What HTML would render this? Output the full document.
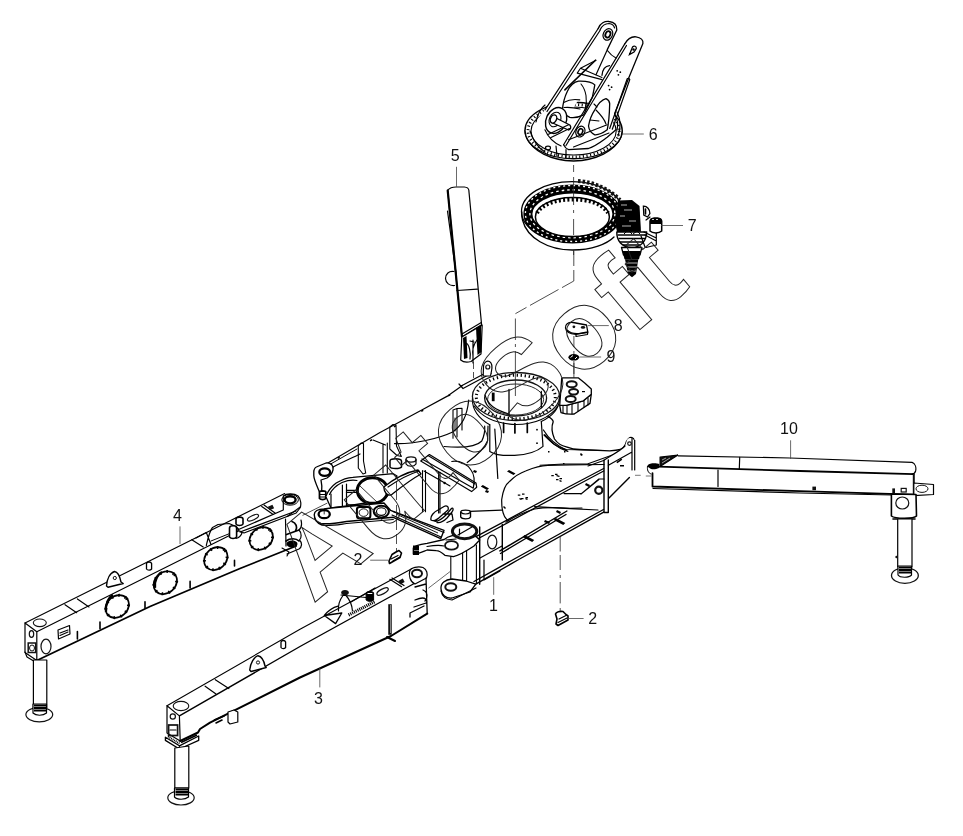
<!DOCTYPE html>
<html><head><meta charset="utf-8"><style>
html,body{margin:0;padding:0;background:#fff;width:963px;height:836px;overflow:hidden}
svg{display:block;will-change:transform}
text{font-family:"Liberation Sans",sans-serif;font-size:16px;fill:#111}
</style></head><body>
<svg width="963" height="836" viewBox="0 0 963 836">
<g id="item6">
<!-- base ring -->
<path fill="none" stroke="#000" stroke-linejoin="round" stroke-linecap="round" d="M525 130.5 C525 133 525.5 135 526.5 137 C532 151 551 160.5 573.6 161 C596 160.5 615 151 621 137 C622 135 622.2 133 622.2 130.5" stroke-width="1.3"/>
<ellipse cx="573.6" cy="130.5" rx="48.6" ry="28.3" fill="#fff" stroke="#000" stroke-width="1.4"/>
<ellipse cx="573.6" cy="131" rx="42.6" ry="24" fill="none" stroke="#000" stroke-width="1.1"/>
<ellipse cx="573.6" cy="130.8" rx="45.6" ry="26.2" fill="none" stroke="#000" stroke-width="2.8" stroke-dasharray="1.1 2.5"/>
<!-- left arm plate -->
<path fill="#fff" stroke-width="1.2" stroke-linejoin="round" d="M598.2 28.5 C600 23 605 21 609 21.5 C614 22 617 25 616.8 30 L607.4 49.4 L596 74.7 L575 105 L566 130 L556 146 L541 136 L535 122 L545 109.8 Z" stroke="none"/>
<path fill="none" stroke="#000" stroke-linejoin="round" stroke-linecap="round" d="M598.2 28.5 C600 23 605 21 609 21.5 C614 22 617 25 616.8 30 L607.4 49.4" stroke-width="1.3"/>
<path fill="none" stroke="#000" stroke-width="1.2" stroke-linejoin="round" stroke-linecap="round" d="M600 30 C602 25.5 606 23.5 609 23.5 C612 23.8 614 25.5 614.6 28"/>
<path fill="none" stroke="#000" stroke-linejoin="round" stroke-linecap="round" d="M598.2 28.5 L545 109.8 M600 30.5 L547 111.5" stroke-width="1.2"/>
<ellipse cx="607.9" cy="34.4" rx="4.6" ry="6" transform="rotate(25 607.9 34.4)" fill="none" stroke="#000" stroke-width="1.2"/>
<ellipse cx="607.9" cy="34.4" rx="2.4" ry="3.3" transform="rotate(25 607.9 34.4)" fill="none" stroke="#000" stroke-width="1.8"/>
<!-- right arm plate -->
<path fill="#fff" stroke-width="1.2" stroke-linejoin="round" d="M624.6 44.1 C628 38 633 36.5 636 36.8 C641 37.5 643.5 40 642.9 43.5 L628.9 77.4 L614.7 113.6 C613 125 612 132 607.2 137.3 C600 143 595 147 588.5 148.5 L568.6 149.7 L563.6 144.7 L586.9 105 Z" stroke="none"/>
<path fill="none" stroke="#000" stroke-linejoin="round" stroke-linecap="round" d="M624.6 44.1 C628 38 633 36.5 636 36.8 C641 37.5 643.5 40 642.9 43.5 L628.9 77.4 L614.7 113.6" stroke-width="1.3"/>
<path fill="none" stroke="#000" stroke-linejoin="round" stroke-linecap="round" d="M624.6 44.1 L563.6 144.7 M626.5 45.5 L566 145.5" stroke-width="1.2"/>
<path fill="none" stroke="#000" stroke-linejoin="round" stroke-linecap="round" d="M563.6 144.7 C565 147.5 566.5 149 568.6 149.7 L588.5 148.5 C596 146 602 141 607.2 137.3 C611 134 614 131.5 616 129.8" stroke-width="1.3"/>
<path fill="none" stroke="#000" stroke-linejoin="round" stroke-linecap="round" d="M568.6 139.8 L607.2 124.8 M573.5 147 L609 133" stroke-width="1.1"/>
<path fill="none" stroke="#000" stroke-linejoin="round" stroke-linecap="round" d="M627.2 78.7 L609.7 128.5 M629.8 79.5 L612.3 129.2 M627.2 78.7 C628.5 78 629.5 78.8 629.8 79.5" stroke-width="1.2"/>
<path d="M629.5 54.5 L632.5 47 C634 45.5 636.5 46 636.3 48.5 L634 52 Z" fill="none" stroke="#000" stroke-width="1.3"/><circle cx="633.5" cy="49.5" r="1.2" fill="#000"/>
<g fill="#000"><circle cx="617.2" cy="70.8" r="0.9"/><circle cx="620.3" cy="72.2" r="0.9"/><circle cx="618.4" cy="74.8" r="0.9"/>
<circle cx="608.6" cy="85.6" r="0.9"/><circle cx="611.6" cy="87.2" r="0.9"/><circle cx="609.6" cy="89.6" r="0.9"/></g>
<ellipse cx="580.4" cy="131.6" rx="4.4" ry="5.6" transform="rotate(25 580.4 131.6)" fill="none" stroke="#000" stroke-width="1.2"/>
<ellipse cx="580.4" cy="131.6" rx="2.2" ry="3" transform="rotate(25 580.4 131.6)" fill="none" stroke="#000" stroke-width="1.6"/>
<!-- gap between arms / cross member -->
<path fill="none" stroke="#000" stroke-linejoin="round" stroke-linecap="round" d="M607.4 50.5 C610 54 613 56.5 616 58 M596 74.7 L607.4 49.4" stroke-width="1.2"/>
<path fill="none" stroke="#000" stroke-linejoin="round" stroke-linecap="round" d="M602 75.3 C602.5 70 605 66 609.5 65.6" stroke-width="1.3"/>
<path fill="none" stroke="#000" stroke-linejoin="round" stroke-linecap="round" d="M580.5 68.3 L596 60.2 M580.5 68.3 L577.2 73.1 L602 79.6 M580.5 68.3 L602 77.4" stroke-width="1.1"/>
<path fill="none" stroke="#000" stroke-linejoin="round" stroke-linecap="round" d="M564.9 89.9 L595.5 60.2" stroke-width="1.6"/>
<!-- opening A -->
<path fill="none" stroke="#000" stroke-linejoin="round" stroke-linecap="round" d="M578.6 81.2 C585 81 592 82 594.8 84.9 C594 90 593 94 592.3 97.4 C589 104 586 110 583.6 114.8 C579 117 573 118 569.8 117.3 C565 115 562.5 112 562.4 109.8 C563 103 565 96 567.4 91.2 C570 86 574 82 578.6 81.2 Z" stroke-width="1.3"/>
<path fill="none" stroke="#000" stroke-linejoin="round" stroke-linecap="round" d="M563.6 102.4 C568 100 575 99 579.8 99.9 M564 107.5 C570 107 576 108 580 109 M581 84 C586 90 588 100 585 110" stroke-width="1.1"/>
<!-- opening B -->
<path fill="none" stroke="#000" stroke-linejoin="round" stroke-linecap="round" d="M606 98.6 C608 99.5 609.5 101 609.7 103.6 C609.5 112 609 122 607.2 129.8 C603 133 598 135 594.8 134.8 C591 133 589 130 588.5 126 C589.5 120 592 114 594.8 109.8 C598 104 602 99.5 606 98.6 Z" stroke-width="1.3"/>
<path fill="none" stroke="#000" stroke-linejoin="round" stroke-linecap="round" d="M596 110 C600 114 604 118 606 124 M590 120 L599 121 M594 104 L597 107" stroke-width="1.1"/>
<!-- pin boss -->
<ellipse cx="556.1" cy="120.5" rx="10" ry="13.5" transform="rotate(25 556.1 120.5)" fill="#fff" stroke="#000" stroke-width="1.4"/>
<ellipse cx="555" cy="119.5" rx="5.6" ry="7.6" transform="rotate(25 555 119.5)" fill="none" stroke="#000" stroke-width="1.1"/>
<path fill="#fff" stroke="#000" stroke-linejoin="round" d="M553 116.5 L569.8 125 C571.5 127 570.8 129.5 568.5 130 L551.5 122.5 Z" stroke-width="1.3"/>
<ellipse cx="553.5" cy="119" rx="3" ry="4.2" transform="rotate(25 553.5 119)" fill="#fff" stroke="#000" stroke-width="1.4"/>
<path fill="none" stroke="#000" stroke-linejoin="round" stroke-linecap="round" d="M544.9 129.8 C548 137 554 143 561.1 146 M547.4 134.8 L568.6 124.8 M551 137.5 L569.5 128.5" stroke-width="1.1"/>
<path fill="none" stroke="#000" stroke-linejoin="round" stroke-linecap="round" d="M530 131 C533 140 538 148 545 152 M536 122 C538 112 541 108 545 105" stroke-width="1.2"/>
<path fill="none" stroke="#000" stroke-linejoin="round" stroke-linecap="round" d="M556 146 L557 156 M566 149.5 L566 158" stroke-width="1.2"/>
<path fill="none" stroke="#000" stroke-linejoin="round" stroke-linecap="round" d="M614.7 113.6 C617 118 618.5 124 617 130 M617 112 C620 118 621.5 126 618 136" stroke-width="1.2"/>
<ellipse cx="548" cy="148" rx="2.5" ry="1.8" fill="none" stroke="#000" stroke-width="1.2"/>
</g>

<g id="item7">
<!-- band -->
<path fill="none" stroke="#000" stroke-linejoin="round" stroke-linecap="round" d="M521.8 212 C521.5 216 522 218 522.5 220 C527 238 548 250 572.3 250 C592 250 607 244 614 237" stroke-width="1.3"/>
<!-- outer top ellipse -->
<ellipse fill="none" stroke="#000" stroke-linejoin="round" stroke-linecap="round" cx="572" cy="211.5" rx="50.5" ry="29.8" stroke-width="1.3"/>
<!-- dark bolt band -->
<ellipse cx="572.4" cy="214" rx="44.5" ry="25" fill="none" stroke="#000" stroke-width="9"/>
<ellipse cx="572.4" cy="213.5" rx="47" ry="28" fill="none" stroke="#fff" stroke-width="1.3" stroke-dasharray="2 3"/>
<ellipse cx="572.4" cy="213.8" rx="42.5" ry="24" fill="none" stroke="#fff" stroke-width="1.3" stroke-dasharray="2.5 3"/>
<!-- inner opening with teeth -->
<ellipse cx="572.4" cy="217" rx="37" ry="19.5" fill="#fff" stroke="#000" stroke-width="1.5"/>
<path d="M537 213 C543 203 558 199.5 572.4 199.5 C588 199.5 602 203 608 213" fill="none" stroke="#000" stroke-width="4" stroke-dasharray="2 2.3"/>
<!-- external teeth top right -->
<path d="M578 181 C595 182 610 190 620 200" fill="none" stroke="#111" stroke-width="4" stroke-dasharray="2.5 2"/>
<!-- motor -->
<path fill="#000" stroke="none" d="M618 200.6 L632 200 L639.5 206 L641 231.7 L617 232 L615 222 Z"/>
<path d="M621 205 h6 M624 210 h8 M620 216 h5 M629 221 h7 M622 226 h9" stroke="#fff" stroke-width="0.7"/>
<path fill="#fff" stroke="#000" stroke-linejoin="round" d="M616.8 232 C616.5 241 622 247 631.5 247.5 C641 247.5 646.5 241 646.7 232 Z" stroke-width="1.4"/>
<path d="M617.5 235 H646 M618.5 238.5 H645 M620 242 H643.5 M623 245 H640" stroke="#000" stroke-width="1.3"/>
<path d="M624 234 L628 230 L632 234 M633 234 L637 231 L640 234" stroke="#000" stroke-width="1" fill="none"/>
<path fill="#fff" stroke="#000" stroke-linejoin="round" d="M621.5 247.5 H641.9 L640 255 H623.5 Z" stroke-width="1.3"/>
<path fill="#000" stroke="none" d="M622.5 251 H641 L639 259.2 H624.5 Z"/>
<path fill="#000" stroke="none" d="M625 259.2 L638.3 259.2 L636 274 L632 277.2 L628 274 Z"/>
<path d="M626 263 H637.5 M626.5 267 H637 M627 271 H636" stroke="#fff" stroke-width="0.7"/>
<!-- bracket -->
<path d="M643.4 206.2 C647 206 650 209.5 649.9 213.5 L647.5 217 L643.8 215 Z" fill="#fff" stroke="#000" stroke-width="1.3"/>
<path fill="none" stroke="#000" stroke-linejoin="round" stroke-linecap="round" d="M645.5 209 V214" stroke-width="1.6"/>
<path fill="none" stroke="#000" stroke-linejoin="round" stroke-linecap="round" d="M646 220 L650 217 M644 232 L656.3 238 M645 235 L656.3 241 M656.3 233 V245 L646 247.5 M641 236 L645 247" stroke-width="1.2"/>
<path fill="#fff" stroke="#000" stroke-linejoin="round" d="M650 221 C650 218 661.7 218 661.7 221 V231 C659 233.5 652.5 233.5 650 231 Z" stroke-width="1.5"/>
<path fill="#000" stroke="none" d="M650 219 C652 216.5 660 216.5 661.7 219 V224 H650 Z"/>
<path d="M652 219.5 h2 M656 219.5 h2" stroke="#fff" stroke-width="0.8"/>
<!-- dash-dot axis -->
<path fill="none" stroke="#222" stroke-width="0.8" d="M573.6 165 V172 M573.6 177 V205 M573.6 210 V213 M573.6 219 V235 M573.6 250 V255"/>
</g>

<g id="item5">
<path fill="#fff" stroke="#000" stroke-linejoin="round" d="M447.7 190.2 C450 187.5 453 187 456 187 L464.4 187 C467 187.3 468.5 188.5 468.8 190 L481.6 324.8 L461.9 337 Z" stroke-width="1.2"/>
<path fill="none" stroke="#000" stroke-linejoin="round" stroke-linecap="round" d="M447.7 190.5 L462 337" stroke-width="2.2"/>
<path fill="none" stroke="#000" stroke-width="1.2" stroke-linejoin="round" stroke-linecap="round" d="M447.5 211 L456.4 276"/>
<path fill="none" stroke="#000" stroke-width="1.2" stroke-linejoin="round" stroke-linecap="round" d="M457 290.5 L477.4 289.2"/>
<path fill="none" stroke="#000" stroke-width="1.2" stroke-linejoin="round" stroke-linecap="round" d="M462 334 L481.3 322.5"/>
<path fill="none" stroke="#000" stroke-width="1.2" stroke-linejoin="round" stroke-linecap="round" d="M454 271.5 C449 270.5 445.5 274 445.5 278.5 C445.8 283 449.5 286 454.5 285.5"/>
<!-- clevis -->
<path fill="#fff" stroke="#000" stroke-linejoin="round" d="M461.8 337 L460.7 360 C463 362 467 362.5 471 361.5 L481 354 L482.2 325 Z" stroke-width="1.2"/>
<path fill="#000" stroke="none" d="M463 338 L466.5 336 L467.5 358 L464 359 Z"/>
<path fill="#000" stroke="none" d="M476 328 L481 325.5 L481.5 352 L477.5 355 Z"/>
<path fill="none" stroke="#000" stroke-width="1.2" stroke-linejoin="round" stroke-linecap="round" d="M466 343 C469 344 471 352 470 359 M477 340 C474 344 472 350 473 356 M470 341 L474 342 M473 340 V363"/>
</g>

<g id="frame">
<!-- rear beam top edge -->
<path fill="none" stroke="#000" stroke-linejoin="round" stroke-linecap="round" d="M314 471 L330 461.7 L380 432.5 L421.8 410 L448.3 395.6 L462.4 385.5" stroke-width="1.2"/>
<path fill="none" stroke="#000" stroke-linejoin="round" stroke-linecap="round" d="M321 469.5 L357 449" stroke-width="1"/>
<!-- rear left lug -->
<path fill="#fff" stroke="#000" stroke-linejoin="round" d="M313.8 472 C314 469 315 467.5 316.4 467 L326 463 C331 462.5 334 466 333 470 C332 474 330 476 327 478 L321 480 C322 484 322 490 321.6 494 L319.5 492 C317 486 314 480 313.8 475.8 Z" stroke-width="1.3"/>
<ellipse cx="324.7" cy="472.1" rx="5.4" ry="3.8" fill="none" stroke="#000" stroke-width="2.2"/>
<path fill="#fff" stroke="#000" stroke-linejoin="round" d="M319.5 492 C319.5 490.5 325.8 490.5 325.8 492 L325.8 498.5 C324.5 500 320.8 500 319.5 498.5 Z" stroke-width="1.8"/>
<path fill="none" stroke="#000" stroke-linejoin="round" stroke-linecap="round" d="M320 494.5 H325.5 M320 497 H325.5" stroke-width="1.2"/>
<!-- rear beam web bottom curve -->
<path fill="none" stroke="#000" stroke-width="1.2" stroke-linejoin="round" stroke-linecap="round" d="M394.5 443.6 C412 444.5 438 439 452.7 432 C462 425 467 417 468.7 400"/>
<!-- gussets -->
<path fill="none" stroke="#000" stroke-linejoin="round" stroke-linecap="round" d="M358.3 446 L358.3 468 L363 474 L365.7 473 L363.5 461 L363.5 443.5 L361 443 Z" stroke-width="1.1"/>
<path fill="none" stroke="#000" stroke-linejoin="round" stroke-linecap="round" d="M383 444 L383 473 M387.3 443 L387.3 473 M373 440 L385.5 445" stroke-width="1.1"/>
<path fill="none" stroke="#000" stroke-linejoin="round" stroke-linecap="round" d="M389.8 427 L389.8 449 L397 455.5 L401.4 456.5 L396.5 446 L396 425 L393 424.5 Z" stroke-width="1.1"/>
<path fill="none" stroke="#000" stroke-linejoin="round" stroke-linecap="round" d="M453 410 L453 438.2 M457 408.5 L457 437 M462 408.3 L462 430 M453 410 L457 408.5 L462 408.3" stroke-width="1.1"/>
<path fill="none" stroke="#000" stroke-linejoin="round" stroke-linecap="round" d="M455 418 L455 431" stroke-width="1"/>
<path fill="#000" stroke="none" d="M337.5 457.5 l2 -1 l0.5 1.5 l-2 1z M369.8 440 l2 -1 l0.5 1.5 l-2 1z M393.6 426 l2 -1 l0.5 1.5 l-2 1z M421 410.5 l2 -1 l0.5 1.5 l-2 1z M448 395 l2 -1 l0.5 1.5 l-2 1z"/>
<!-- cylinder mount bracket -->
<path fill="none" stroke="#000" stroke-linejoin="round" stroke-linecap="round" d="M461.6 385.7 L489.8 370.8 M463 388.5 L491 373.5 M459 384 L463 388.5" stroke-width="1.2"/>
<path fill="#fff" stroke="#000" stroke-width="1.2" stroke-linejoin="round" d="M483.2 376 L483.5 366 C484 362 487 360.5 489.5 361.5 C492 363 492.5 366 491.5 371 L490.5 376 Z"/>
<circle cx="487.8" cy="367" r="2" fill="none" stroke="#111" stroke-width="1.2"/>
<!-- tower / slewing bearing -->
<path fill="none" stroke="#000" stroke-linejoin="round" stroke-linecap="round" d="M472.4 398.5 C472 410 478 418 489.8 424.8 M559.6 398 C559.4 408 553 416 541.3 421.5" stroke-width="1.1"/>
<path fill="none" stroke="#000" stroke-width="1.2" stroke-linejoin="round" stroke-linecap="round" d="M474 406 C484 420 500 424 516 424.5 C534 424.5 550 418 558 406"/>
<ellipse cx="516" cy="396.5" rx="43.6" ry="24" fill="none" stroke="#111" stroke-width="1.3"/>
<ellipse cx="515.8" cy="397" rx="39.5" ry="21.8" fill="none" stroke="#000" stroke-width="3" stroke-dasharray="1.3 2.7"/>
<ellipse cx="515.6" cy="398" rx="31" ry="18" fill="none" stroke="#111" stroke-width="1.3"/>
<ellipse cx="515.6" cy="399.5" rx="28" ry="15.5" fill="none" stroke="#111" stroke-width="0.9"/>
<path fill="none" stroke="#000" stroke-width="1.2" stroke-linejoin="round" stroke-linecap="round" d="M489.8 424.8 L489.8 451.4 C498 457 530 458 543 446.4 L541.3 421.5"/>
<path fill="none" stroke="#000" stroke-linejoin="round" stroke-linecap="round" d="M509 389.4 L509 414.1 M541.3 391.5 L541.3 407.7" stroke-width="1.3"/><rect x="491.8" y="392.6" width="2.8" height="8.6" fill="#000"/><path fill="none" stroke="#000" stroke-linejoin="round" stroke-linecap="round" d="M503.6 423 V432.4 M514.9 423.5 V433 M527.3 423 V432.4" stroke-width="1.7"/><circle cx="537" cy="429.7" r="0.9" fill="#000"/><circle cx="537" cy="443.2" r="0.9" fill="#000"/><path fill="none" stroke="#000" stroke-linejoin="round" stroke-linecap="round" d="M485 395 C488 405 495 410 509 414" stroke-width="1.1"/>
<path fill="none" stroke="#000" stroke-linejoin="round" stroke-linecap="round" d="M494.8 429 L497.8 478.5" stroke-width="1.2"/>
<path fill="none" stroke="#000" stroke-width="1.2" stroke-linejoin="round" stroke-linecap="round" d="M444 446.5 C460 448 476 447 481.8 441 C485 434 485 430 484.7 426.2 M467.2 462.5 C476 456 485 448 487.6 440.7 L488 426"/>
<path fill="none" stroke="#000" stroke-width="1.2" stroke-linejoin="round" stroke-linecap="round" d="M544.7 434.7 C550 441 556 448 567.9 451.4 M543.4 430 C547 436 553 444 566.9 450.2"/>

<!-- right bracket -->
<path fill="#fff" stroke="#000" stroke-linejoin="round" d="M559.7 405.4 L561 412.6 C565 414 570 414.5 574.2 414 L590 403.4 L591.3 394.2 L583.4 400.8 L566.3 405.4 Z" stroke-width="1.3"/>
<path fill="none" stroke="#000" stroke-linejoin="round" stroke-linecap="round" d="M563 406 V413 M567 405.5 V413.5 M572 404.5 V414 M578 402.5 V411 M584 400.5 V407 M588 398 V405" stroke-width="1.1"/>
<path fill="#fff" stroke="#000" stroke-linejoin="round" d="M561.7 378.4 L563 377.8 L578.2 377.8 L584.7 383 L591.3 389 L591.3 394.2 L583.4 400.8 L566.3 405.4 L559.7 405.4 Z" stroke-width="1.3"/>
<ellipse cx="571.7" cy="384.2" rx="5" ry="3" fill="none" stroke="#111" stroke-width="2"/>
<ellipse cx="573.6" cy="391.8" rx="4.5" ry="2.8" fill="none" stroke="#111" stroke-width="2"/>
<ellipse cx="570.7" cy="399" rx="5" ry="3" fill="none" stroke="#111" stroke-width="2"/>
<path fill="#000" stroke="none" d="M582 391 h3 v1.2 h-3z"/>
<!-- flare curves -->
<path fill="none" stroke="#000" stroke-linejoin="round" stroke-linecap="round" d="M547.9 416.6 C551 418 553 420 553.2 421.8 C551.5 426 551.5 432 554.5 439 C558 444 562 446 566.3 446.8 C572 449 576 449.5 579.5 449.5 L609.7 450.8 C614 450.5 618 450 620.3 449.5 C623 448 625 446 625.5 444.2 C626.5 441 627 440 628.2 439 C629 437.8 631 437.2 632.1 437.6 C633.5 438 634 439 634 440.3" stroke-width="1.3"/>
<path fill="none" stroke="#000" stroke-width="1.2" stroke-linejoin="round" stroke-linecap="round" d="M544 435 C552 443 558 448 566.3 449.5 L603 450.5"/>
<path fill="none" stroke="#000" stroke-linejoin="round" stroke-linecap="round" d="M540 465.3 L563.7 464 L587.4 464 M587.4 464 L624.2 450.8 M588 466 L625 453" stroke-width="1.1"/>
<path fill="#000" stroke="none" d="M548 451 h1.5 v1.5 h-1.5z M564 451 h1.5 v1.5 h-1.5z M581 453 l2 2 l-2 1 l-1 -2z M563 463 h1.5 v1.2 h-1.5z"/>
<!-- right end box -->
<path fill="#fff" stroke-width="1.2" stroke-linejoin="round" d="M604 468.5 L604 512.5 L608.3 512.5 L609 498 L629.4 477.6 L634.7 470 L634 440.3 C632 437 628 437.5 627 440 L625 446 C620 451 612 455 604 460.2 Z" stroke="none"/>
<path fill="none" stroke="#000" stroke-linejoin="round" stroke-linecap="round" d="M604 460.2 V512.5 M608.3 460 V512.5 M604 512.5 H608.3" stroke-width="1.4"/>
<path fill="none" stroke="#000" stroke-linejoin="round" stroke-linecap="round" d="M604 460.2 C612 455 620 451 625 446 M608.4 465.3 L632 452 M632 438 V470 M634.7 440.3 V470" stroke-width="1.2"/>
<path fill="none" stroke="#000" stroke-linejoin="round" stroke-linecap="round" d="M609 498 L629.4 477.6" stroke-width="1.4"/>
<circle cx="629.5" cy="443.6" r="1.8" fill="none" stroke="#111" stroke-width="1.2"/>
<circle cx="598.8" cy="490.3" r="3.6" fill="none" stroke="#111" stroke-width="2.2"/>
<path fill="none" stroke="#000" stroke-width="1.2" stroke-linejoin="round" stroke-linecap="round" d="M564 493.6 L581.4 493.6 L598.9 479 L604 479 M581 494 L598.9 479.5"/>
<path fill="#000" stroke="none" d="M616.3 462 l5 -3.5 l1 1.2 l-5 3.5z M620 465 h4 v1.5 h-4z"/>
<!-- bottom edge -->
<path fill="none" stroke="#000" stroke-linejoin="round" stroke-linecap="round" d="M449.5 597.4 L475.8 584.2 L517.8 560 L603.7 512.1 M474 581.5 L517 557.5 L603.5 509.5" stroke-width="1.4"/>
<!-- front beam edges -->
<path fill="none" stroke="#000" stroke-linejoin="round" stroke-linecap="round" d="M476 536.6 L570 486.3 L603.7 468.5 M477 539.3 L570 489 L603.7 471" stroke-width="1.3"/>
<path fill="none" stroke="#000" stroke-linejoin="round" stroke-linecap="round" d="M499.9 550.9 L566.9 511 M500.5 553.5 L566 514.5" stroke-width="1.4"/>
<path fill="none" stroke="#000" stroke-width="1.2" stroke-linejoin="round" stroke-linecap="round" d="M505.9 522.2 C515 516 525 512 534.6 509 C545 507 560 507.5 570 508.4 L582 508"/>
<path fill="none" stroke="#000" stroke-width="1.2" stroke-linejoin="round" stroke-linecap="round" d="M534.6 506.7 L570 508.6 L598 510"/>
<!-- curved top plate (half disc) -->
<path fill="none" stroke="#000" stroke-linejoin="round" stroke-linecap="round" d="M509 521 C503 518 501.5 510 501.7 499.5 C503 490 506 484 509.5 481.5 C515 476 520 473 526.2 470.8 C535 467 542 465.5 547.8 465.4 C556 464.8 565 464.8 570 464.8 L604 464.5" stroke-width="1.2"/>
<path fill="none" stroke="#000" stroke-width="1.2" stroke-linejoin="round" stroke-linecap="round" d="M470 511.4 L501.7 510.2"/>
<!-- front-left end face -->
<path fill="none" stroke="#000" stroke-linejoin="round" stroke-linecap="round" d="M479.7 527 L479.7 584.2 M502.3 524.5 L502.3 560" stroke-width="1.4"/>
<ellipse cx="492.2" cy="542" rx="4.6" ry="6.8" fill="none" stroke="#111" stroke-width="1.2"/>
<path fill="none" stroke="#000" stroke-width="1.2" stroke-linejoin="round" stroke-linecap="round" d="M480 558 L502 546 M484 560 V580 L500 571"/>
<path fill="#000" stroke="none" d="M522.6 537 l2 -2 l9.6 5 l-2 2z M553.7 520 l2 -2 l9.6 5 l-2 2z M480.8 486.5 l2 -1.5 l6.2 3.5 l-2 1.5z M507 471.5 l2 -1.5 l6.5 3.5 l-2 1.5z"/>
<path fill="#000" stroke="none" d="M517.8 494.5 h2.5 v1.3 h-2.5z M522 493.5 h2.5 v1.3 h-2.5z M521 498 h2.5 v1.3 h-2.5z M525.5 497 h2.5 v1.3 h-2.5z M551.3 475 h2.5 v1.3 h-2.5z M555 473.8 h2.5 v1.3 h-2.5z M556 479 h2.5 v1.3 h-2.5z M559.5 478 h2.5 v1.3 h-2.5z"/>
<!-- front post -->
<path fill="none" stroke="#000" stroke-linejoin="round" stroke-linecap="round" d="M462.6 552 V584 M466.6 550 V583 M476.4 545 V583 M450.8 556.6 V586" stroke-width="1.1"/>
<path fill="#fff" stroke="#000" stroke-linejoin="round" d="M441 589 C440.5 583 445 579.5 452 579 L466 581 L475.8 584.2 L470 592 L452 598 C446 598.5 441.5 595 441 589 Z" stroke-width="1.3"/>
<path fill="none" stroke="#000" stroke-linejoin="round" stroke-linecap="round" d="M441 591 C442 596 446 599.5 452 600 L476 588" stroke-width="1.2"/>
<ellipse cx="450.8" cy="587" rx="5.5" ry="3.8" fill="none" stroke="#111" stroke-width="2"/>
<path fill="none" stroke="#444" stroke-width="0.8" d="M450.8 571 L428.4 588.2"/>
<!-- front-left pivot arm -->
<path fill="#fff" stroke="#000" stroke-linejoin="round" d="M413.3 548 C414 545.5 420 544.5 427.1 543.4 L444.2 539.5 C450 535 460 533 476 536.6 L479.7 540 L474 546 C468 550 460 555 453.4 556.6 L444.9 555.3 C440 551 437 550.7 436.3 550.7 L427.1 550 C422 552 417 554.5 413.3 554 Z" stroke-width="1.3"/>
<path fill="none" stroke="#000" stroke-width="1.2" stroke-linejoin="round" stroke-linecap="round" d="M427 546.5 C433 545.5 440 545 444 546"/>
<path fill="#000" stroke="none" d="M413 545.5 h6 v4.5 h-6z M413 550.5 h6 v4.5 h-6z"/>
<ellipse cx="451.5" cy="545.4" rx="6.5" ry="4.3" fill="#fff" stroke="#111" stroke-width="1.8"/>
<path fill="none" stroke="#000" stroke-width="1.2" stroke-linejoin="round" stroke-linecap="round" d="M446 540 L456 539"/>
<!-- black ring and washer -->
<ellipse cx="464.6" cy="531.3" rx="12.2" ry="7.4" fill="#fff" stroke="#111" stroke-width="3"/>
<path fill="none" stroke="#000" stroke-width="1.2" stroke-linejoin="round" stroke-linecap="round" d="M458 535 L472 527 M459.5 529 V535"/>
<path fill="#fff" stroke="#000" stroke-linejoin="round" d="M460.7 512 C461 509.5 470 509.5 470.5 512 V517 C469 519.5 462 519.5 460.7 517 Z" stroke-width="1.4"/>
<path fill="none" stroke="#000" stroke-width="1.2" stroke-linejoin="round" stroke-linecap="round" d="M461 512.5 C463 514.5 468 514.5 470.3 512.5"/>
<!-- link plates -->
<path fill="none" stroke="#000" stroke-linejoin="round" stroke-linecap="round" d="M431 520 C430 516 434 512 438 510 L444 506.5 C447 505 449 507 448 510 L441 516 C438 519 434 522 431 520 Z M434 521 C437 522 441 520 446 515 L451 509 C453 507 454 509 452 512 L447 518 C444 521 440 523 437 522.5 M443 514 L452 514 L453 520 L447 522.5" stroke-width="1.3"/>
<!-- crossbar -->
<path fill="#fff" stroke="#000" stroke-linejoin="round" d="M420.7 461 L429.4 454.5 L476 482.9 L476.7 487.2 L471.6 491.6 Z" stroke-width="1.2"/>
<path fill="none" stroke="#000" stroke-width="1.2" stroke-linejoin="round" stroke-linecap="round" d="M422 459 L473 488 M428 455.5 L475 484"/>
<path fill="none" stroke="#000" stroke-width="1.2" stroke-linejoin="round" stroke-linecap="round" d="M451.8 461.5 C460 460 468 465 471 470 C474 474 475 480 473.3 487.8"/>
<path fill="none" stroke="#000" stroke-linejoin="round" stroke-linecap="round" d="M422.5 470.5 L422.5 511.8 M425.5 470.5 L425.5 511.8 M438.6 472.3 L438.6 513 M440 472.3 L440 513 M424 471 L450 486" stroke-width="1.1"/><circle cx="444.6" cy="483" r="1.2" fill="#000"/>
<!-- nut & washer rear -->
<path fill="#fff" stroke="#000" stroke-linejoin="round" d="M390 461 C390 458 401 458 401.5 461 L401.5 467 C400 469 391 469 390 467 Z" stroke-width="1.5"/>
<ellipse cx="411" cy="459.5" rx="5" ry="2.6" fill="#fff" stroke="#111" stroke-width="1.3"/>
<path fill="none" stroke="#000" stroke-width="1.2" stroke-linejoin="round" stroke-linecap="round" d="M406 459.5 V464 C408 467 414 467 416 464 V459.5"/>
<!-- left pivot bracket -->
<path fill="#fff" stroke="#000" stroke-linejoin="round" d="M325.8 496.5 C328 491 332 486 336.2 483 C342 479.5 348 477.5 352.8 477.3 L393.3 473.7 L397 476 L392 490 L384 500 L347 506 L331 508 Z" stroke-width="1.3"/>
<path fill="none" stroke="#000" stroke-linejoin="round" stroke-linecap="round" d="M329.5 494.5 C332 489 337 485 342 482.5 C347 480.5 352 479.5 357 480.5" stroke-width="1.2"/>
<path fill="none" stroke="#000" stroke-linejoin="round" stroke-linecap="round" d="M331 494 V508 M342.4 485 V518 M346.5 484 V519" stroke-width="1.2"/>
<path fill="none" stroke="#000" stroke-linejoin="round" stroke-linecap="round" d="M346.5 490.3 H356 M346.5 492.4 H356 M346.5 504.8 H356 M346.5 507 H356" stroke-width="1.3"/>
<ellipse cx="372.5" cy="490.5" rx="15.2" ry="12.8" fill="#fff" stroke="#000" stroke-width="3"/>
<path fill="none" stroke="#000" stroke-linejoin="round" stroke-linecap="round" d="M360 486 L378 503" stroke-width="0.8"/>
<path fill="#fff" stroke="#000" stroke-linejoin="round" d="M314.3 515 C314 511 318 509 324 509 L331 508 L384 503 L390.5 510.3 L444 530.4 L440.7 538.7 L393.3 517.3 L346.5 521.5 C338 523 328 524.5 320.6 523.5 C316 522.5 314.5 519 314.3 515 Z" stroke-width="1.4"/>
<path fill="none" stroke="#000" stroke-linejoin="round" stroke-linecap="round" d="M314.5 517.5 C316 522 320 525.5 326 525.5 C335 525.5 342 524 346.5 523.5 L393.3 519.5" stroke-width="1.2"/>
<ellipse cx="324.2" cy="514.2" rx="5.6" ry="4" fill="none" stroke="#000" stroke-width="2.3"/>
<path fill="none" stroke="#000" stroke-linejoin="round" stroke-linecap="round" d="M324.2 509 V514" stroke-width="0.8"/>
<rect x="356.9" y="507" width="13.5" height="11.3" rx="2.5" fill="#fff" stroke="#000" stroke-width="2"/>
<ellipse cx="363.6" cy="512.6" rx="4.5" ry="3.8" fill="none" stroke="#000" stroke-width="0.9"/>
<ellipse cx="381.3" cy="511.6" rx="7.6" ry="5.8" fill="#fff" stroke="#000" stroke-width="2"/>
<ellipse cx="381.3" cy="511.6" rx="4.8" ry="3.8" fill="none" stroke="#000" stroke-width="1.1"/>
<path fill="none" stroke="#000" stroke-linejoin="round" stroke-linecap="round" d="M392 515 L441 537 M393 511.5 L444 532.5" stroke-width="1.1"/>
<path d="M396 514 L438 533" stroke="#000" stroke-width="0.9"/>
<!-- upper curved arm -->
<path fill="#fff" stroke="#000" stroke-linejoin="round" d="M383.8 487 C395 478 408 472 418 470 L421 474 C410 480 400 488 391 495 C387 496 384 492 383.8 487 Z" stroke-width="1.3"/>
<path fill="none" stroke="#000" stroke-width="1.2" stroke-linejoin="round" stroke-linecap="round" d="M388 487 C398 480 410 474 419 471"/>
<!-- rear left top lug hole plate -->
<path fill="none" stroke="#000" stroke-width="1.2" stroke-linejoin="round" stroke-linecap="round" d="M333 467 C345 461 356 456 360 454"/>
<!-- misc holes on top plate -->
<path fill="#000" stroke="none" d="M474 470 l3 1 l-1 2 l-3 -1z M486 490 l3 1 l-1 2 l-3 -1z M504 506 l2 2 l-1 1 l-2 -2z M557 475 l3 1 l-1 1 l-3 -1z M560 480 l2 1 l-1 1 l-2 -1z M520 498 l2 1 l-1 1 l-2 -1z M526 498 l2 1 l-1 1 l-2 -1z"/>
<path fill="#000" stroke="none" d="M545 520 l5 2 l-1 2 l-5 -2z M557 510 l4 2 l-1 2 l-4 -2z M586 483 l4 2 l-1 2 l-4 -2z"/>
<!-- dash-dot axes -->
<path fill="none" stroke="#222" stroke-width="0.8" d="M473.5 362 V369 M473.5 372 V378"/>
<path fill="none" stroke="#222" stroke-width="0.8" d="M396.5 482 V500 M396.5 505 V530 M396.5 534 V544 M396.5 548 V554"/>
<path fill="none" stroke="#222" stroke-width="0.8" d="M560.2 537 V551.5 M560.2 555 V570 M560.2 575 V578 M560.2 582 V603.4 M560.2 608 V613"/>
<path fill="none" stroke="#222" stroke-width="0.8" d="M573.9 363 V374"/>
<path fill="none" stroke="#222" stroke-width="0.8" d="M573.8 251 V266 M573.8 270 V281 L562 287.6 M558.5 289.5 L530 305.4 M526.5 307.4 L515.4 313.7 M515.4 318.5 V340 M515.4 344 V347 M515.4 351 V396"/>
</g>

<g id="item4">
<!-- top face -->
<path fill="#fff" stroke-width="1.2" stroke-linejoin="round" d="M25 622.9 L284.7 493.5 L300.5 507 L296.2 513 L238.8 531 L36.8 631.8 Z" stroke="none"/>
<path fill="none" stroke="#000" stroke-linejoin="round" stroke-linecap="round" d="M25 622.9 L284.7 493.5" stroke-width="1.1"/>
<path fill="none" stroke="#000" stroke-linejoin="round" stroke-linecap="round" d="M36.8 631.8 L240 530.2" stroke-width="1.2"/>
<path fill="none" stroke="#000" stroke-width="1.2" stroke-linejoin="round" stroke-linecap="round" d="M65 604.7 L76.7 612.7 M77.4 598.9 L89 606.9"/>
<!-- left end face -->
<path fill="#fff" stroke="#000" stroke-linejoin="round" d="M25 622.9 L36.8 631.8 L36.8 660.5 L25 652.5 Z" stroke-width="1.2"/>
<path fill="none" stroke="#000" stroke-width="1.2" stroke-linejoin="round" stroke-linecap="round" d="M25 652 L27 657 L37 663"/>
<ellipse cx="31.5" cy="634" rx="2.2" ry="3.3" fill="none" stroke="#111" stroke-width="1.2"/>
<rect x="28.2" y="643" width="7.5" height="9.5" fill="none" stroke="#111" stroke-width="1.5"/>
<ellipse cx="32" cy="648" rx="2.5" ry="3" fill="none" stroke="#111" stroke-width="1"/>
<ellipse cx="39.8" cy="622.8" rx="6.5" ry="3.8" fill="none" stroke="#111" stroke-width="1.1"/>
<!-- front face -->
<path fill="none" stroke="#000" stroke-linejoin="round" stroke-linecap="round" d="M36.8 660.5 L150 606.5 L240 568.5 L296.2 546" stroke-width="1.8"/>
<ellipse cx="46" cy="646.5" rx="5" ry="7.3" fill="none" stroke="#111" stroke-width="1.2"/>
<path fill="#fff" stroke="#000" stroke-linejoin="round" d="M58 630 L69.5 625.5 L70 634 L58.5 639 Z" stroke-width="1.2"/>
<path fill="none" stroke="#000" stroke-width="1.2" stroke-linejoin="round" stroke-linecap="round" d="M60 633 L68 630 M60 635.5 L68 632"/>
<path fill="none" stroke="#000" stroke-linejoin="round" stroke-linecap="round" d="M77.4 631.6 V638.9 M100 622 V628.7 M145 601.8 V608.3 M190.1 581.4 V588 M234.5 560.4 V566" stroke-width="1.6"/>
<g fill="none" stroke="#000" stroke-width="1.7">
<ellipse cx="117.2" cy="606.5" rx="12.6" ry="10.4" transform="rotate(-42 117.2 606.5)"/>
<ellipse cx="165.3" cy="582.7" rx="12.6" ry="10.4" transform="rotate(-42 165.3 582.7)"/>
<ellipse cx="215.8" cy="558.6" rx="12.6" ry="10.4" transform="rotate(-42 215.8 558.6)"/>
<ellipse cx="261.2" cy="538.5" rx="12.6" ry="10.4" transform="rotate(-42 261.2 538.5)"/>
</g>
<g fill="none" stroke="#000" stroke-width="3" stroke-dasharray="1.6 5.2">
<ellipse cx="117.2" cy="606.5" rx="12.3" ry="10.1" transform="rotate(-42 117.2 606.5)"/>
<ellipse cx="165.3" cy="582.7" rx="12.3" ry="10.1" transform="rotate(-42 165.3 582.7)"/>
<ellipse cx="215.8" cy="558.6" rx="12.3" ry="10.1" transform="rotate(-42 215.8 558.6)"/>
<ellipse cx="261.2" cy="538.5" rx="12.3" ry="10.1" transform="rotate(-42 261.2 538.5)"/>
</g>
<path d="M106 612 C105 604 109 597 113 595 M155 588 C154 580 158 574 162 572" stroke="#000" stroke-width="2.4" fill="none"/>
<!-- lug & bolt on top -->
<path fill="#fff" stroke="#000" stroke-linejoin="round" d="M106.5 586 C107 579 110 573 114.5 571.5 C118 572 120 577 121 582 L123.2 583.5 L108 587.2 Z" stroke-width="1.4"/>
<circle cx="114.8" cy="578" r="1.6" fill="none" stroke="#111" stroke-width="1"/>
<path fill="#fff" stroke="#000" stroke-linejoin="round" d="M146.5 563.5 C147 561.5 151 561.5 151.6 563.5 V569 C150.5 570.5 147.5 570.5 146.5 569 Z" stroke-width="1.3"/>
<!-- right end -->
<path fill="none" stroke="#000" stroke-linejoin="round" stroke-linecap="round" d="M191.8 539.7 L203.2 547 M196 538 L206.3 532.5 L211 544.5 M206.3 545.5 C208 538 209.5 531 212.5 527.5 L218 524.5 L229 523.5 L236 526.5 L242 533 C241 536 238 538 236 538.5" stroke-width="1.2"/><path fill="none" stroke="#000" stroke-linejoin="round" stroke-linecap="round" d="M211 541 L236 531" stroke-width="1"/>
<path fill="#fff" stroke="#000" stroke-linejoin="round" d="M237.4 530 L283.3 510 L283.3 496 C286 493.5 294 493 298 496 C301 499 301.5 505 300 508 L296.2 513 L244 533 Z" stroke-width="1.2"/>
<path fill="none" stroke="#000" stroke-width="1.2" stroke-linejoin="round" stroke-linecap="round" d="M240 532 L296 511"/>
<ellipse cx="290.1" cy="499.8" rx="5.5" ry="3.6" fill="none" stroke="#000" stroke-width="2.4"/><ellipse cx="290.1" cy="499.8" rx="8.3" ry="5.4" fill="none" stroke="#000" stroke-width="1"/>
<path fill="none" stroke="#000" stroke-width="1.2" stroke-linejoin="round" stroke-linecap="round" d="M261.7 506.5 L273.2 514.4 M264 505 L275 513"/>
<rect x="268.5" y="505.5" width="5" height="4" fill="#111" transform="rotate(-25 271 507.5)"/>
<ellipse cx="253" cy="517.7" rx="6" ry="2.2" transform="rotate(-25 253 517.7)" fill="none" stroke="#111" stroke-width="1.2"/>
<path fill="#fff" stroke="#000" stroke-linejoin="round" d="M236 519 C236 516.5 243 516.5 243 519 V524 C242 526 237 526 236 524 Z" stroke-width="1.6"/>
<path fill="#fff" stroke="#000" stroke-linejoin="round" d="M229.5 528 C229.5 525 236.6 525 236.6 528 V537 C235 539 231 539 229.5 537 Z" stroke-width="1.6"/>
<!-- hinge at right end -->
<path fill="none" stroke="#000" stroke-linejoin="round" stroke-linecap="round" d="M300.6 506.8 L287.2 516.4 M285.5 519 L286 546 M301 520 C302 524 301.5 528 299 530 C302 533 301.5 538 299.5 540 C302.5 543 302 547 299 549 L287 554" stroke-width="1.2"/>
<path fill="none" stroke="#000" stroke-linejoin="round" stroke-linecap="round" d="M292 521.5 C296 523 298 527 295.5 531 M286.5 534.5 L299 530 M286 541 C290 538 296 538 299 541" stroke-width="1.7"/>
<ellipse cx="292" cy="544" rx="5.5" ry="3.4" fill="#000"/>
<path fill="none" stroke="#000" stroke-linejoin="round" stroke-linecap="round" d="M282 548 L289 552 L287 556" stroke-width="1.1"/>
<path d="M302.5 515.4 L327.4 503" stroke="#222" stroke-width="0.8" fill="none"/>
<!-- leg -->
<path fill="#fff" stroke="#000" stroke-linejoin="round" d="M33.4 660 L33.4 708 L46.8 708 L46.8 660 Z" stroke-width="1.2"/>

<ellipse cx="39.3" cy="714.6" rx="13.4" ry="7.3" fill="#fff" stroke="#111" stroke-width="1.2"/>
<path fill="#fff" stroke="#000" stroke-linejoin="round" d="M33 704 L33 713 C36 716 43 716 46.5 713 L46.5 704 Z" stroke-width="1.2"/>
<path d="M34 705.5 H46 M34 708 H46 M34 710.5 H46" stroke="#000" stroke-width="1.8"/>
</g>

<g id="item3">
<path fill="#fff" stroke-width="1.2" stroke-linejoin="round" d="M167 705.7 L412.2 568.6 L426 577 L179.4 715.9 Z" stroke="none"/>
<path fill="none" stroke="#000" stroke-linejoin="round" stroke-linecap="round" d="M167 705.7 L300 629.3 L412.2 568.6" stroke-width="1.1"/>
<path fill="none" stroke="#000" stroke-linejoin="round" stroke-linecap="round" d="M179.4 715.9 L300 646.5 L426 577" stroke-width="1.4"/>
<path fill="none" stroke="#000" stroke-width="1.2" stroke-linejoin="round" stroke-linecap="round" d="M205.1 686.2 L216 694 M215.3 679.7 L228.8 688.6"/>
<!-- left face -->
<path fill="#fff" stroke="#000" stroke-linejoin="round" d="M167 705.7 L179.4 715.9 L180.2 741 L167 733 Z" stroke-width="1.2"/>
<ellipse cx="181" cy="706" rx="7.8" ry="4.6" fill="none" stroke="#111" stroke-width="1.1"/>
<circle cx="172.8" cy="716.5" r="2.6" fill="none" stroke="#111" stroke-width="1.2"/>
<rect x="168.6" y="725" width="9" height="10.5" fill="none" stroke="#111" stroke-width="1.7"/>
<path fill="none" stroke="#000" stroke-width="1.2" stroke-linejoin="round" stroke-linecap="round" d="M170 730 H176"/>
<!-- front bottom edge -->
<path fill="none" stroke="#000" stroke-linejoin="round" stroke-linecap="round" d="M180.2 741 L198 732.5 L200 729 L210 722.7 L300 677.5 L391 636 L427.2 613.6" stroke-width="2"/>
<!-- pad -->
<path fill="#fff" stroke="#000" stroke-linejoin="round" d="M165.4 737.2 L179.4 745.8 L198.7 736 L198.7 740.4 L179.4 749 L165.4 740.4 Z" stroke-width="1.3"/><path fill="none" stroke="#000" stroke-linejoin="round" stroke-linecap="round" d="M179.4 745.8 V749" stroke-width="1"/>
<path d="M168 736.5 L179.5 743.5" stroke="#000" stroke-width="2" stroke-dasharray="1 0.8"/><path d="M181 742.5 L197 735" stroke="#000" stroke-width="1.6"/>
<!-- under bits -->
<path fill="#fff" stroke="#000" stroke-linejoin="round" d="M228 712 L234 710 L237.8 712 L237.8 722 L230 724 L228 722 Z" stroke-width="1.2"/>
<path fill="none" stroke="#000" stroke-linejoin="round" stroke-linecap="round" d="M214.4 720 L224 716 M216 723 L222 720" stroke-width="1.6"/>
<!-- leg -->
<path fill="#fff" stroke="#000" stroke-linejoin="round" d="M174.8 748 L174.8 788 L188.8 788 L188.8 746 Z" stroke-width="1.2"/>

<ellipse cx="181" cy="797.8" rx="13.2" ry="7.2" fill="#fff" stroke="#111" stroke-width="1.2"/>
<path fill="#fff" stroke="#000" stroke-linejoin="round" d="M174.5 788 L174.5 797 C177 800 185 800 188.5 797 L188.5 788 Z" stroke-width="1.2"/>
<path d="M175.5 789.5 H188 M175.5 792 H188 M175.5 794.5 H188" stroke="#000" stroke-width="1.8"/>
<!-- top details -->
<path fill="#fff" stroke="#000" stroke-linejoin="round" d="M249.7 670 C250.5 663 254 657 258 655.7 C262 656.5 264 661 265 666 L266.2 667.5 L251 671.5 Z" stroke-width="1.4"/>
<circle cx="258" cy="662.5" r="1.6" fill="none" stroke="#111" stroke-width="1"/>
<path fill="#fff" stroke="#000" stroke-linejoin="round" d="M281 642 C281.5 640 285 640 285.6 642 V647.5 C284.5 649 282 649 281 647.5 Z" stroke-width="1.3"/>
<path fill="none" stroke="#000" stroke-linejoin="round" stroke-linecap="round" d="M324.3 615.5 L341.8 613 L335.6 623.6 Z M324.3 615.5 C328 611 333 607.5 338 606.2" stroke-width="1.3"/>
<path fill="none" stroke="#000" stroke-linejoin="round" stroke-linecap="round" d="M343 595.5 C339.5 600 338 605 338.5 611 M346 595.5 C350 600 352 605 352.4 610.5 M341 595 L366 597.5 M351 602 L375 588" stroke-width="1.2"/>
<ellipse cx="345" cy="592.5" rx="3.8" ry="2.6" fill="#111"/>
<path d="M348.6 615 L375 601.5" stroke="#000" stroke-width="3.2" stroke-dasharray="1.1 0.9"/>
<path d="M366.1 593 C366.1 591 373.6 591 373.6 593 V600 C372 601.8 367.8 601.8 366.1 600 Z" fill="#000" stroke="#000" stroke-width="1"/><path d="M367.5 593.5 H372.3" stroke="#fff" stroke-width="1"/>
<ellipse cx="382.6" cy="591.5" rx="6.3" ry="2.4" transform="rotate(-28 382.6 591.5)" fill="none" stroke="#111" stroke-width="1.2"/>
<path fill="none" stroke="#000" stroke-width="1.2" stroke-linejoin="round" stroke-linecap="round" d="M389.8 579.3 L401.6 586.8 M392 578 L404 585.5"/>
<rect x="399" y="579.5" width="5" height="4" fill="#111" transform="rotate(-28 401.5 581.5)"/>
<!-- right end lug -->
<path fill="#fff" stroke="#000" stroke-linejoin="round" d="M409.7 571 C411 567.5 418 566 423 567.5 C427 569.5 428 574 426.5 578 L415 584 C410 582 408.5 575 409.7 571 Z" stroke-width="1.2"/>
<ellipse cx="417" cy="573.5" rx="5" ry="3.7" fill="none" stroke="#111" stroke-width="2"/>
<path fill="none" stroke="#000" stroke-linejoin="round" stroke-linecap="round" d="M426 578 L427.2 613.6 M423 590 C428 592 428 598 425 601 M415 587 L426 584 M415 600 C420 598 426 596 427 602 M414 607 L426 603 M410 617 L410 613 L424 606" stroke-width="1.3"/>
<path d="M390 604.2 V634.8" stroke="#111" stroke-width="3.5"/>
<path d="M390.5 605 V633" stroke="#888" stroke-width="1"/>
<path fill="none" stroke="#000" stroke-linejoin="round" stroke-linecap="round" d="M387 637 L395 641" stroke-width="2"/>
</g>

<g id="item10">
<path fill="#fff" stroke-width="1.2" stroke-linejoin="round" d="M660 465 L678.2 455.8 L912 462.4 C915 464 916 467 915.6 472.3 L913.8 474.1 L913.8 494.7 L652.5 487 L652.5 473 Z" stroke="none"/>
<path fill="none" stroke="#000" stroke-linejoin="round" stroke-linecap="round" d="M678.2 455.8 L790 458 L912 462.4 C915 463.5 916.5 467 915.6 471 C915 473 914 474 912 474.1" stroke-width="1.2"/>
<path d="M660.1 457.2 L678 455 L660.1 466.5 Z" fill="#111" stroke="#000" stroke-width="1.2"/><path d="M662 460 L666 458 M662 463 L670 458" stroke="#fff" stroke-width="0.6"/>
<path fill="none" stroke="#000" stroke-linejoin="round" stroke-linecap="round" d="M658.3 466.6 L800 471 L913.8 474.1" stroke-width="1.8"/>
<path fill="none" stroke="#000" stroke-linejoin="round" stroke-linecap="round" d="M652.5 473.2 L652.5 486.5 L800 491.2 L913.8 494.7" stroke-width="1.8"/>
<path fill="none" stroke="#000" stroke-width="1.2" stroke-linejoin="round" stroke-linecap="round" d="M653 488.5 L800 493 L892 495"/>
<path fill="none" stroke="#000" stroke-linejoin="round" stroke-linecap="round" d="M739.7 457.4 L739.3 469 M718 470 L718 486.5" stroke-width="1.2"/>
<path fill="none" stroke="#000" stroke-linejoin="round" stroke-linecap="round" d="M647.5 466 C647 470 648 473 651 474" stroke-width="1"/>
<path d="M648 465 C649 463 656 462.5 659.4 464 L659 468 C656 469.5 653 469.5 651 469 L648 467 Z" fill="#000"/><path d="M635 475.3 H640.7 M645.8 476 H651.5" stroke="#555" stroke-width="0.8"/>
<path d="M913.8 474.1 L913.8 494.7" stroke="#111" stroke-width="2"/>
<path fill="#fff" stroke="#000" stroke-linejoin="round" d="M913.8 483 L933.5 484.5 L933.5 494.5 L913.8 495.6 Z" stroke-width="1.2"/>
<ellipse cx="922" cy="488.8" rx="6" ry="3.6" fill="none" stroke="#111" stroke-width="1"/>
<!-- leg housing -->
<path fill="#fff" stroke="#000" stroke-linejoin="round" d="M891.4 494 L916 494.5 L916.5 516 C914 519 895 519 891.4 516 Z" stroke-width="1.6"/>
<ellipse cx="902.3" cy="503" rx="6.5" ry="6" fill="none" stroke="#111" stroke-width="1.2"/>
<path fill="none" stroke="#000" stroke-linejoin="round" stroke-linecap="round" d="M893 519 L915 519" stroke-width="1.6"/>
<rect x="812.4" y="486.6" width="3.6" height="3.6" fill="#111"/>
<rect x="892.3" y="488.4" width="2.7" height="5" fill="#111"/>
<rect x="901.2" y="488.4" width="5" height="3.6" fill="none" stroke="#111" stroke-width="1.2"/>
<!-- leg -->
<path fill="#fff" stroke="#000" stroke-linejoin="round" d="M897.7 519 L897.7 567 L912 567 L912 519 Z" stroke-width="1.2"/>
<circle cx="896.5" cy="557" r="1.2" fill="#111"/>
<ellipse cx="904.9" cy="575.5" rx="13.4" ry="7.8" fill="#fff" stroke="#111" stroke-width="1.3"/>
<path fill="#fff" stroke="#000" stroke-linejoin="round" d="M898 566 L898 575 C900 578 909 578 911.5 575 L911.5 566 Z" stroke-width="1.2"/>
<path d="M899 567.5 H911 M899 570 H911 M899 572.5 H911" stroke="#000" stroke-width="1.8"/>
</g>

<g id="small">
<!-- item 8 -->
<path fill="#fff" stroke="#000" stroke-linejoin="round" d="M565.5 328 C565 324.5 568 322 573 322.5 L586.5 325 L587.8 332 L580 333.5 L576 334.4 C571 334 566 332 565.5 328 Z" stroke-width="1.3"/>
<path fill="none" stroke="#000" stroke-width="1.2" stroke-linejoin="round" stroke-linecap="round" d="M567 330 C570 333 576 334 580 333.5 L587.5 332.5 M576 334.4 L576 336.5 L587.5 334.5 L587.8 332"/>
<circle cx="573.9" cy="326.8" r="1.4" fill="#111"/>
<ellipse cx="583" cy="327.4" rx="2.2" ry="1.3" fill="#111"/>
<!-- item 9 -->
<ellipse cx="573.8" cy="357.3" rx="5.4" ry="3.3" fill="#000"/><path d="M570.5 357.5 L573 355.5 M575 359 L577 357" stroke="#fff" stroke-width="1"/>
<path fill="none" stroke="#222" stroke-width="0.8" d="M573.9 336 V347 M573.9 351 V354 M573.9 361 V378"/>
<!-- item 2 left -->
<path fill="#fff" stroke="#000" stroke-linejoin="round" d="M389 561 L392 554.5 L396 552 L399 550.5 L401.5 553 L400 557.5 L389.5 563.5 Z" stroke-width="1.6"/>
<path fill="none" stroke="#000" stroke-width="1.2" stroke-linejoin="round" stroke-linecap="round" d="M391 559 L398 555.5 M393 561 L400 557"/>
<!-- item 2 right -->
<path fill="#fff" stroke="#000" stroke-linejoin="round" d="M555.5 614 C556 612 560 611 563 611.5 L566 614.5 L568 616 L568 620 L558 625.5 L556 624 L557 619 Z" stroke-width="1.6"/>
<path fill="none" stroke="#000" stroke-width="1.2" stroke-linejoin="round" stroke-linecap="round" d="M559 619 L566 615.5 M558 622.5 L567 618"/>
</g>

<text fill="none" stroke="#333" stroke-width="0.9" transform="translate(313,604) rotate(-40)" style="font-size:113px;font-weight:bold;letter-spacing:2.4px;fill:none;stroke:#222;stroke-width:1">AutoSoft</text>

<g id="labels">
<text x="648.7" y="139.8">6</text>
<text x="687.8" y="230.5">7</text>
<text x="450.8" y="160.9">5</text>
<text x="613.8" y="330.8">8</text>
<text x="606.6" y="361.7">9</text>
<text x="780" y="434.1">10</text>
<text x="173" y="521">4</text>
<text x="353.5" y="564.9">2</text>
<text x="489" y="611">1</text>
<text x="588.3" y="623.8">2</text>
<text x="314" y="703.9">3</text>
<path fill="none" stroke="#444" stroke-width="0.8" d="M621.8 134H643.8 M661 225.5H683 M456.5 166.8V186.9 M587.8 325.6H608.8 M579.6 357H601.1 M790.6 440.3V459 M180 526.4V544 M370.2 560.2H388.3 M493.7 577.2V594.8 M568 618.5H583.6 M319.8 667.5V687.4"/>
</g>

</svg>
</body></html>
